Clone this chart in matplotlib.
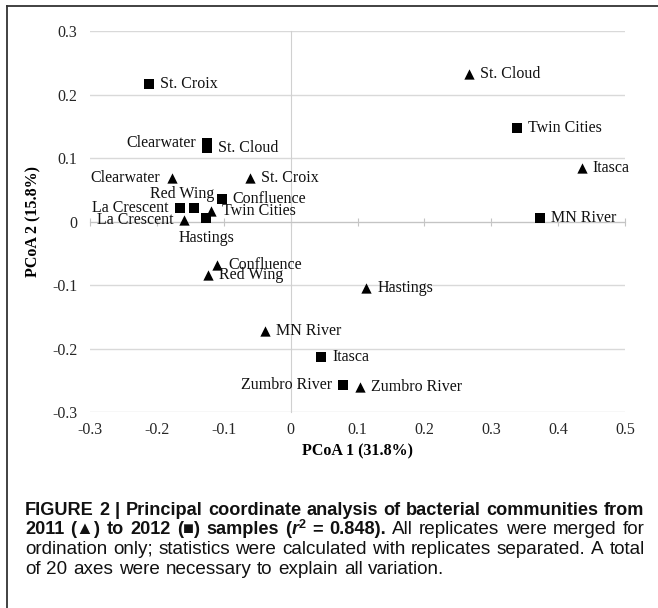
import matplotlib
matplotlib.use('Agg')
import matplotlib.pyplot as plt
from matplotlib.lines import Line2D

# PCoA scores
names_2011 = ['St. Cloud', 'Itasca', 'St. Croix', 'Clearwater', 'Twin Cities', 'La Crescent',
              'Confluence', 'Red Wing', 'Hastings', 'MN River', 'Zumbro River']
x_2011 = [0.266, 0.435, -0.061, -0.178, -0.119, -0.159, -0.110, -0.123, 0.113, -0.039, 0.104]
y_2011 = [0.233, 0.085, 0.069, 0.069, 0.017, 0.003, -0.069, -0.085, -0.104, -0.172, -0.261]

names_2012 = ['St. Croix', 'Twin Cities', 'Clearwater', 'St. Cloud', 'Confluence', 'La Crescent',
              'Red Wing', 'Hastings', 'MN River', 'Itasca', 'Zumbro River']
x_2012 = [-0.212, 0.339, -0.125, -0.125, -0.103, -0.166, -0.144, -0.126, 0.373, 0.046, 0.079]
y_2012 = [0.217, 0.148, 0.124, 0.116, 0.036, 0.022, 0.022, 0.005, 0.005, -0.214, -0.258]

x_ticks = [-0.3, -0.2, -0.1, 0, 0.1, 0.2, 0.3, 0.4, 0.5]
x_tick_labels = ['-0.3', '-0.2', '-0.1', '0', '0.1', '0.2', '0.3', '0.4', '0.5']
y_ticks = [-0.3, -0.2, -0.1, 0, 0.1, 0.2, 0.3]
y_tick_labels = ['-0.3', '-0.2', '-0.1', '0', '0.1', '0.2', '0.3']

# where each label sits relative to its marker (default: right)
place_2011 = {'Clearwater': 'left', 'La Crescent': 'left'}
place_2012 = {'Clearwater': 'left', 'La Crescent': 'left', 'Zumbro River': 'left',
              'Red Wing': 'aboveleft', 'Hastings': 'below'}

W, H = 658, 608
fig = plt.figure(figsize=(W / 100, H / 100), dpi=100)
serif = ['Liberation Serif', 'DejaVu Serif']
fs = 11.5

ax = fig.add_axes([90 / W, 1 - 412 / H, 535 / W, 381 / H])
ax.set_xlim(-0.3, 0.5)
ax.set_ylim(-0.3, 0.3)
ax.set_xticks(x_ticks)
ax.set_yticks(y_ticks)
ax.yaxis.grid(True, color='#d9d9d9', lw=1)
ax.set_axisbelow(True)
for s in ['top', 'right']:
    ax.spines[s].set_visible(False)
ax.spines['bottom'].set_position(('data', 0))
ax.spines['left'].set_position(('data', 0))
ax.spines['bottom'].set_color('#c4c4c4')
ax.spines['left'].set_color('#d0d0d0')
ax.tick_params(axis='x', direction='inout', length=6, color='#c4c4c4', labelbottom=False)
ax.tick_params(axis='y', length=0, labelleft=False)

secx = ax.secondary_xaxis('bottom')
secx.set_xticks(x_ticks, x_tick_labels)
secx.spines['bottom'].set_visible(False)
secx.tick_params(length=0, pad=7, labelsize=fs, labelcolor='#262626')
for t in secx.get_xticklabels():
    t.set_family(serif)
secx.set_xlabel('PCoA 1 (31.8%)', fontsize=fs, fontweight='bold', family=serif, labelpad=4)

secy = ax.secondary_yaxis('left')
secy.set_yticks(y_ticks, y_tick_labels)
secy.spines['left'].set_visible(False)
secy.tick_params(length=0, pad=9, labelsize=fs, labelcolor='#262626')
for t in secy.get_yticklabels():
    t.set_family(serif)
secy.set_ylabel('PCoA 2 (15.8%)', fontsize=fs, fontweight='bold', family=serif, labelpad=8)

ax.scatter(x_2011, y_2011, marker='^', s=55, color='black', linewidths=0, zorder=3)
ax.scatter(x_2012, y_2012, marker='s', s=45, color='black', linewidths=0, zorder=3)

offsets = {'right': ((11, 0), 'left'), 'left': ((-11, 0), 'right'),
           'aboveleft': ((20, 14), 'right'), 'below': ((0, -20), 'center')}


def add_labels(names, xs, ys, place):
    for n, xv, yv in zip(names, xs, ys):
        off, ha = offsets[place.get(n, 'right')]
        ax.annotate(n, (xv, yv), xytext=off, textcoords='offset pixels', ha=ha,
                    va='center', fontsize=fs, family=serif, color='#111111', zorder=4)


add_labels(names_2011, x_2011, y_2011, place_2011)
add_labels(names_2012, x_2012, y_2012, place_2012)

# frame lines of the figure panel
fig.add_artist(Line2D([7 / W, 1], [1 - 6 / H, 1 - 6 / H], color='#333333', lw=1.3))
fig.add_artist(Line2D([7 / W, 7 / W], [0, 1 - 6 / H], color='#333333', lw=1.3))

# caption, justified like the journal layout
cap_font = ['Liberation Sans', 'DejaVu Sans']
renderer = fig.canvas.get_renderer()
cap_left, cap_right = 25, 645
line1 = 'FIGURE 2 | Principal coordinate analysis of bacterial communities from'
line3 = 'ordination only; statistics were calculated with replicates separated. A total'
line4 = 'of 20 axes were necessary to explain all variation.'


def text_w(s, size, weight='normal', style='normal'):
    t = fig.text(0, 0, s, fontsize=size, fontweight=weight, fontstyle=style, family=cap_font)
    w = t.get_window_extent(renderer).width
    t.remove()
    return w


# pick sizes so the full-width lines keep ordinary word spacing
target = cap_right - cap_left - 6
bold_pt = 11.0 * target / text_w(line1, 11.0, 'bold')
reg_pt = 11.0 * target / text_w(line3, 11.0)
space_px = reg_pt / 0.72 * 0.28


def words_of(text, weight='normal'):
    size = bold_pt if weight == 'bold' else reg_pt
    return [[(w, weight, 'normal', size, 0)] for w in text.split()]


def put_line(words, base_y, justify):
    arts = []
    widths = []
    for w in words:
        pos = 0
        pieces = []
        for s, weight, style, size, rise in w:
            t = fig.text(0, 0, s, fontsize=size, fontweight=weight, fontstyle=style,
                         family=cap_font, va='baseline', ha='left', color='#111111')
            pieces.append((t, pos, rise))
            pos += t.get_window_extent(renderer).width + 0.5
        arts.append(pieces)
        widths.append(pos)
    gap = (cap_right - cap_left - sum(widths)) / (len(words) - 1) if justify else space_px
    x = cap_left
    for pieces, wd in zip(arts, widths):
        for t, p, rise in pieces:
            t.set_position(((x + p) / W, 1 - (base_y - rise) / H))
        x += wd + gap


B = 'bold'
line2 = (words_of('2011 (\u25B2) to 2012 (\u25A0) samples', B)
         + [[('(', B, 'normal', bold_pt, 0), ('r', B, 'italic', bold_pt, 0),
             ('2', B, 'normal', bold_pt * 0.7, 6)]]
         + words_of('= 0.848).', B)
         + words_of('All replicates were merged for'))
put_line(words_of(line1, B), 515, True)
put_line(line2, 534.5, True)
put_line(words_of(line3), 554, True)
put_line(words_of(line4), 573.5, False)

fig.savefig('out.png', dpi=100)
